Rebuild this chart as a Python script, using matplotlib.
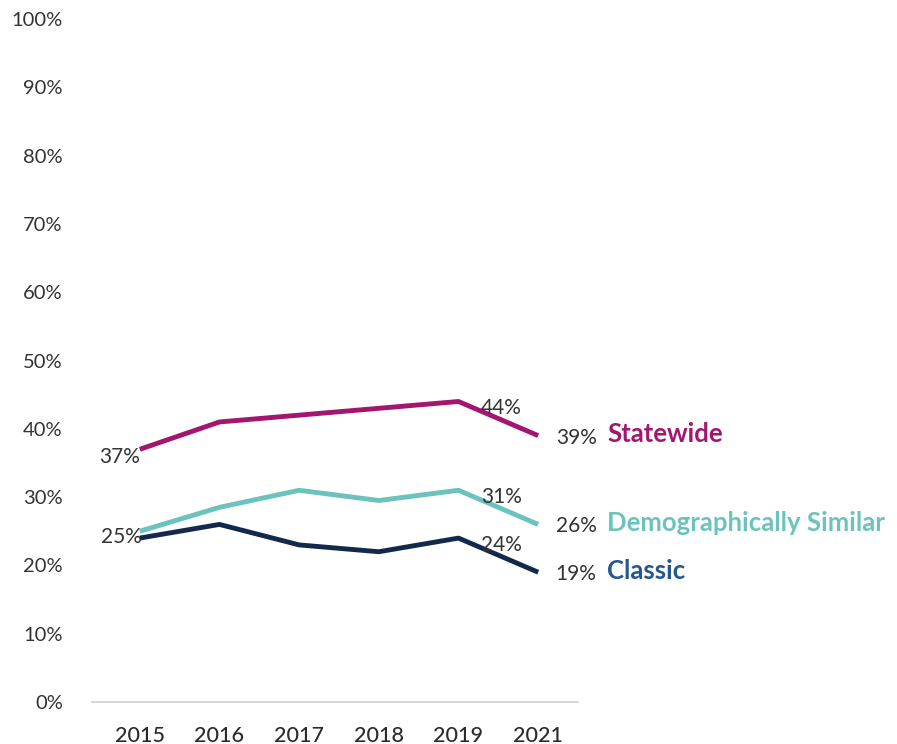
import matplotlib.pyplot as plt

plt.rcParams['font.family'] = ['Lato', 'DejaVu Sans']

years = ['2015', '2016', '2017', '2018', '2019', '2021']
statewide = [37, 41, 42, 43, 44, 39]
demo_similar = [25, 28.5, 31, 29.5, 31, 26]
classic = [24, 26, 23, 22, 24, 19]

series = [
    ('Statewide', statewide, '#a3166f', '#a3166f'),
    ('Demographically Similar', demo_similar, '#6cc2bc', '#6cc2bc'),
    ('Classic', classic, '#13294b', '#25588c'),
]

fig = plt.figure(figsize=(8.97, 7.44), dpi=100)
ax = fig.add_axes([92 / 897, 42 / 744, 486 / 897, 683 / 744])

x = range(len(years))
for name, vals, col, txtcol in series:
    ax.plot(x, [v / 100 for v in vals], color=col, lw=3.5, solid_capstyle='butt')

ax.set_xlim(-0.6, 5.5)
ax.set_ylim(0, 1.0)
ax.set_xticks(list(x))
ax.set_xticklabels(years, fontsize=15.5, color='#2b2b2b', fontweight='medium')
ax.set_yticks([i / 10 for i in range(11)])
ax.set_yticklabels([f'{i * 10}%' for i in range(11)], fontsize=14.5, color='#333333')
ax.tick_params(axis='x', length=0, pad=17)
ax.tick_params(axis='y', length=0, pad=21)
for s in ['top', 'right', 'left']:
    ax.spines[s].set_visible(False)
ax.spines['bottom'].set_color('#d0d0d0')
ax.spines['bottom'].set_linewidth(1.2)

lbl = dict(fontsize=15, color='#333333')
# first-year labels
ax.text(-0.25, statewide[0] / 100 + 0.004, f'{statewide[0]}%', ha='center', va='top', **lbl)
ax.text(0.02, demo_similar[0] / 100 - 0.008, f'{demo_similar[0]}%', ha='right', va='center', **lbl)
# 2019 labels
for vals in (statewide, demo_similar, classic):
    ax.text(4.28, vals[4] / 100 + 0.005, f'{vals[4]:g}%', ha='left', va='top', **lbl)
# end labels with series names
for name, vals, col, txtcol in series:
    ax.text(5.22, vals[-1] / 100 - 0.003, f'{vals[-1]:g}%', ha='left', va='center', **lbl)
    ax.text(5.87, vals[-1] / 100 + 0.002, name, ha='left', va='center',
            fontsize=18.5, fontweight='bold', color=txtcol, clip_on=False)

fig.savefig('out.png', dpi=100)
